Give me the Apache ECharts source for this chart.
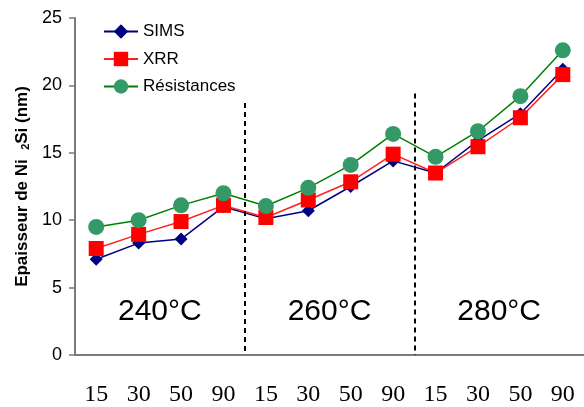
<!DOCTYPE html>
<html>
<head>
<meta charset="utf-8">
<script src="https://cdn.jsdelivr.net/npm/echarts@6/dist/echarts.min.js"></script>
<style>
  html, body { margin: 0; padding: 0; background: #fff; }
  #chart { width: 584px; height: 407px; }
</style>
</head>
<body>
<div id="chart"></div>
<script>
// durées (min) pour chaque température
var categories = ['15', '30', '50', '90', '15', '30', '50', '90', '15', '30', '50', '90'];
var sims = [7.1, 8.3, 8.6, 11.0, 10.1, 10.7, 12.5, 14.4, 13.5, 15.9, 17.9, 21.2];
var xrr = [7.9, 8.95, 9.9, 11.1, 10.2, 11.5, 12.85, 14.9, 13.5, 15.45, 17.6, 20.8];
var resistances = [9.5, 10.0, 11.1, 12.0, 11.05, 12.4, 14.1, 16.4, 14.7, 16.6, 19.2, 22.6];
var groupLabels = ['240°C', '260°C', '280°C'];
var yTicks = [0, 5, 10, 15, 20, 25];

var chart = echarts.init(document.getElementById('chart'));

var axisGrey = '#7a7a7a';

chart.setOption({
  animation: false,
  backgroundColor: '#fff',
  grid: { left: 75, top: 18, right: -8, bottom: 52 },
  legend: {
    orient: 'vertical',
    left: 103,
    top: 23,
    padding: 0,
    itemWidth: 34,
    itemHeight: 18,
    itemGap: 10.5,
    textStyle: { fontFamily: 'Liberation Sans, Arial', fontSize: 17, color: '#000' },
    data: ['SIMS', 'XRR', 'Résistances']
  },
  xAxis: [{
    type: 'category',
    data: categories,
    boundaryGap: true,
    axisLine: { lineStyle: { color: axisGrey, width: 2 } },
    axisTick: { length: 6, lineStyle: { color: axisGrey, width: 1.5 } },
    axisLabel: { fontFamily: 'Liberation Serif, Times New Roman', fontSize: 24, color: '#000', margin: 28, interval: 0 },
    splitLine: { show: false }
  }, {
    type: 'value',
    show: false,
    min: 0,
    max: categories.length
  }],
  yAxis: {
    type: 'value',
    min: yTicks[0],
    max: yTicks[yTicks.length - 1],
    interval: 5,
    name: 'Epaisseur de Ni  {sub|2}Si (nm)',
    nameLocation: 'middle',
    nameGap: 41,
    nameTextStyle: {
      fontFamily: 'Liberation Sans, Arial',
      fontSize: 17,
      fontWeight: 'bold',
      color: '#000',
      rich: {
        sub: { fontFamily: 'Liberation Sans, Arial', fontSize: 11, fontWeight: 'bold', color: '#000', verticalAlign: 'bottom', padding: [7, 0, 0, 0] }
      }
    },
    axisLine: { show: true, lineStyle: { color: axisGrey, width: 2 } },
    axisTick: { show: true, length: 6, lineStyle: { color: axisGrey, width: 1.5 } },
    axisLabel: { fontFamily: 'Liberation Sans, Arial', fontSize: 18, color: '#000', margin: 13 },
    splitLine: { show: false }
  },
  series: [{
    name: 'SIMS',
    type: 'line',
    data: sims,
    symbol: 'diamond',
    symbolSize: 13,
    itemStyle: { color: '#000080' },
    lineStyle: { color: '#000080', width: 1.5 }
  }, {
    name: 'XRR',
    type: 'line',
    data: xrr,
    symbol: 'rect',
    symbolSize: 15,
    itemStyle: { color: '#ff0000' },
    lineStyle: { color: '#ff2020', width: 1.5 }
  }, {
    name: 'Résistances',
    type: 'line',
    data: resistances,
    symbol: 'circle',
    symbolSize: 16,
    itemStyle: { color: '#339966' },
    lineStyle: { color: '#008000', width: 1.5 }
  }, {
    // séparateurs et étiquettes de température
    type: 'scatter',
    xAxisIndex: 1,
    silent: true,
    symbolSize: 0,
    itemStyle: { opacity: 1 },
    data: groupLabels.map(function (t, i) { return { value: [i * 4 + 2, 3.2], name: t }; }),
    label: {
      show: true,
      position: 'inside',
      formatter: '{b}',
      fontFamily: 'Liberation Sans, Arial',
      fontSize: 30,
      color: '#000',
      opacity: 1,
      textBorderWidth: 0
    },
    markLine: {
      silent: true,
      symbol: 'none',
      label: { show: false },
      lineStyle: { color: '#000', width: 2, type: [5, 4] },
      data: [
        [{ coord: [4, 18.7] }, { coord: [4, 0] }],
        [{ coord: [8, 19.4] }, { coord: [8, 0] }]
      ]
    }
  }]
});
</script>
</body>
</html>
